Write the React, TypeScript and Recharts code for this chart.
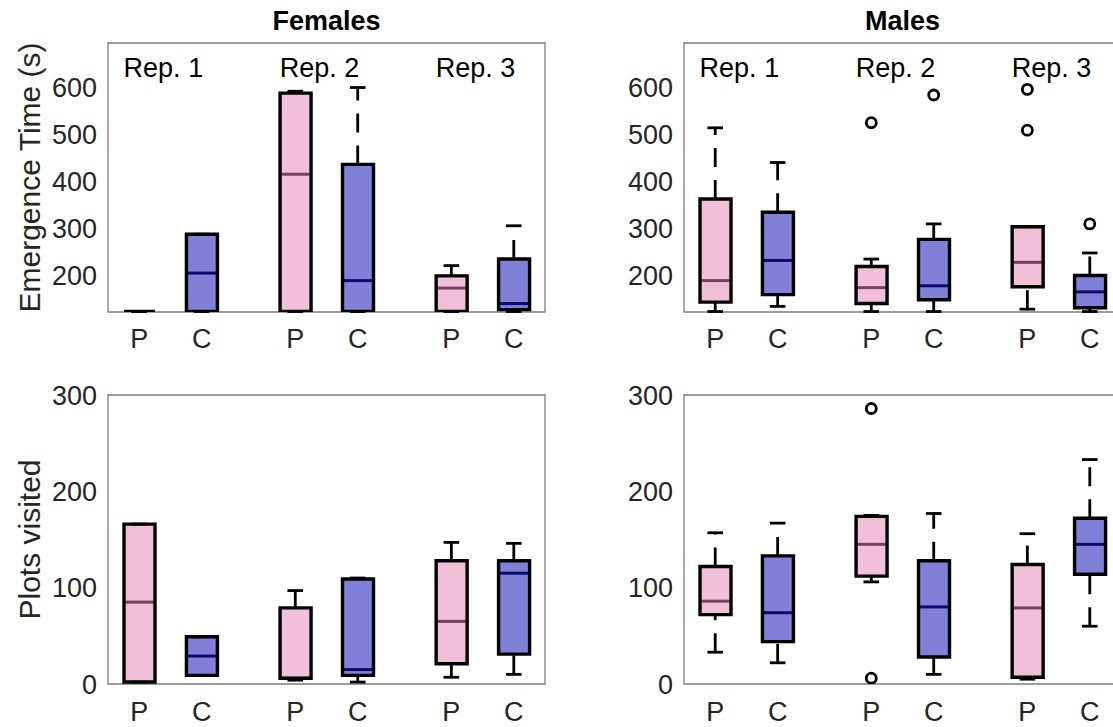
import React from 'react';
import {
  ComposedChart,
  Bar,
  Scatter,
  XAxis,
  YAxis,
  ReferenceLine,
  ReferenceArea,
  ReferenceDot,
} from 'recharts';

// box positions on the x axis and their group
const positions = [1, 1.4, 2, 2.4, 3, 3.4];
const groups = ['P', 'C', 'P', 'C', 'P', 'C'];
const repLabels = ['Rep. 1', 'Rep. 2', 'Rep. 3'];
const repLabelX = [0.9, 1.9, 2.9];

const timeTicks = [200, 300, 400, 500, 600];
const plotTicks = [0, 100, 200, 300];

// each box: [min, q1, median, q3, max]
const femaleTime = [
  [122, 122, 122, 122, 122],
  [122, 122, 204, 287, 287],
  [122, 122, 415, 588, 592],
  [122, 122, 188, 436, 600],
  [122, 122, 172, 198, 220],
  [122, 126, 139, 234, 305],
];
const maleTime = [
  [122, 142, 188, 362, 514],
  [133, 158, 231, 334, 440],
  [122, 139, 173, 218, 234],
  [122, 147, 177, 276, 309],
  [127, 175, 227, 303, 303],
  [122, 130, 164, 199, 247],
];
const femalePlots = [
  [2, 2, 85, 166, 166],
  [9, 9, 29, 49, 49],
  [4, 6, 6, 79, 97],
  [2, 9, 15, 109, 110],
  [7, 21, 65, 128, 147],
  [10, 31, 115, 128, 146],
];
const malePlots = [
  [33, 72, 86, 122, 157],
  [22, 44, 74, 133, 167],
  [106, 112, 145, 174, 175],
  [10, 28, 80, 128, 177],
  [5, 7, 79, 124, 156],
  [60, 114, 145, 172, 233],
];

// outliers: [box index, value]
const femaleTimeOut: number[][] = [];
const maleTimeOut = [[2, 525], [3, 584], [4, 596], [4, 509], [5, 309]];
const femalePlotsOut: number[][] = [];
const malePlotsOut = [[2, 286], [2, 6]];

const PINK = '#f2bfd9';
const BLUE = '#8080d8';
const PINK_MED = '#774060';
const BLUE_MED = '#0b0b6e';
const TEXT = '#262626';
const FRAME = '#7d7d7d';
const HALF = 0.1;

// box fill, median, then outline on top; median y taken between the bar's q1/q3 pixels
const BoxShape = (props: any) => {
  const { x, y, width, payload } = props;
  const h = Math.max(props.height || 0, 0);
  const span = payload.q3 - payload.q1;
  const my = span > 0 ? y + (h * (payload.q3 - payload.med)) / span : y;
  const p = payload.group === 'P';
  return (
    <g>
      <rect x={x} y={y} width={width} height={h} fill={p ? PINK : BLUE} />
      <line x1={x + 1.5} x2={x + width - 1.5} y1={my} y2={my} stroke={p ? PINK_MED : BLUE_MED} strokeWidth={3} />
      <path d={`M${x},${y}h${width}v${h}h${-width}Z`} fill="none" stroke="#000" strokeWidth={3.4} />
    </g>
  );
};

const Outlier = (props: any) => (
  <circle cx={props.cx} cy={props.cy} r={5} fill="none" stroke="#000" strokeWidth={2.8} />
);

interface PanelProps {
  stats: number[][];
  outliers: number[][];
  yDomain: [number, number];
  yTicks: number[];
  left: number;
  top: number;
  width: number;
  height: number;
  marginTop: number;
  marginRight: number;
  xAxisHeight: number;
  yAxisWidth: number;
  xTickMargin: number;
  yLabel?: string;
  reps?: boolean;
}

const Panel = (p: PanelProps) => {
  const rows = p.stats.map((s, i) => ({
    pos: positions[i],
    group: groups[i],
    min: s[0],
    q1: s[1],
    med: s[2],
    q3: s[3],
    max: s[4],
  }));
  const outs = p.outliers.map(([i, v]) => ({ pos: positions[i], value: v }));
  const line = { stroke: '#000', strokeWidth: 2.8, ifOverflow: 'visible' as const };

  return (
    <div style={{ position: 'absolute', left: p.left, top: p.top }}>
      <ComposedChart
        width={p.width}
        height={p.height}
        data={rows}
        margin={{ top: p.marginTop, right: p.marginRight, bottom: 0, left: 0 }}
      >
        <XAxis
          type="number"
          dataKey="pos"
          domain={[0.8, 3.6]}
          ticks={positions}
          interval={0}
          allowDataOverflow
          tickFormatter={(_v: number, i: number) => groups[i]}
          tickLine={false}
          axisLine={false}
          tickSize={0}
          tickMargin={p.xTickMargin}
          height={p.xAxisHeight}
          tick={{ fontSize: 27, fill: TEXT }}
        />
        <YAxis
          type="number"
          domain={p.yDomain}
          ticks={p.yTicks}
          interval={0}
          allowDataOverflow
          tickLine={false}
          axisLine={false}
          tickSize={0}
          tickMargin={11}
          width={p.yAxisWidth}
          tick={{ fontSize: 27, fill: TEXT }}
          label={
            p.yLabel
              ? {
                  value: p.yLabel,
                  angle: -90,
                  position: 'insideLeft',
                  offset: 29,
                  fontSize: 30,
                  fill: TEXT,
                  style: { textAnchor: 'middle' },
                }
              : undefined
          }
        />
        <ReferenceArea
          x1={0.8}
          x2={3.6}
          y1={p.yDomain[0]}
          y2={p.yDomain[1]}
          fill="none"
          stroke={FRAME}
          strokeWidth={1.3}
          ifOverflow="visible"
        />
        {rows.map((r, i) => (
          <ReferenceLine
            key={`lw${i}`}
            segment={[{ x: r.pos, y: r.min }, { x: r.pos, y: r.q1 }]}
            strokeDasharray="19 13"
            {...line}
          />
        ))}
        {rows.map((r, i) => (
          <ReferenceLine
            key={`uw${i}`}
            segment={[{ x: r.pos, y: r.q3 }, { x: r.pos, y: r.max }]}
            strokeDasharray="19 13"
            {...line}
          />
        ))}
        {rows.map((r, i) => (
          <ReferenceLine
            key={`lc${i}`}
            segment={[{ x: r.pos - HALF / 2, y: r.min }, { x: r.pos + HALF / 2, y: r.min }]}
            {...line}
          />
        ))}
        {rows.map((r, i) => (
          <ReferenceLine
            key={`uc${i}`}
            segment={[{ x: r.pos - HALF / 2, y: r.max }, { x: r.pos + HALF / 2, y: r.max }]}
            {...line}
          />
        ))}
        <Bar
          dataKey={(d: any) => [d.q1, d.q3]}
          barSize={31}
          shape={BoxShape}
          isAnimationActive={false}
        />
        <Scatter data={outs} dataKey="value" shape={Outlier} isAnimationActive={false} />
        {p.reps &&
          repLabels.map((t, i) => (
            <ReferenceDot
              key={t}
              x={repLabelX[i]}
              y={642}
              r={0}
              fill="none"
              stroke="none"
              label={{ value: t, position: 'right', offset: 0, fontSize: 27, fill: '#000' }}
            />
          ))}
      </ComposedChart>
    </div>
  );
};

const titleStyle: React.CSSProperties = {
  position: 'absolute',
  top: 8,
  fontSize: 27,
  lineHeight: '27px',
  fontWeight: 'bold',
  color: '#000',
  textAlign: 'center',
  width: 437,
};

export default function App() {
  const topRow = { top: 0, height: 370, marginTop: 43, xAxisHeight: 58, xTickMargin: 17 };
  const bottomRow = { top: 370, height: 357, marginTop: 25, xAxisHeight: 43, xTickMargin: 18 };
  const leftCol = { left: 0, width: 560, marginRight: 15, yAxisWidth: 108 };
  const rightCol = { left: 560, width: 561, marginRight: 0, yAxisWidth: 124 };

  return (
    <div
      style={{
        position: 'absolute',
        left: 0,
        top: 0,
        width: 1113,
        height: 727,
        overflow: 'hidden',
        background: '#fff',
        fontFamily: '"Liberation Sans", Arial, Helvetica, sans-serif',
      }}
    >
      <div style={{ ...titleStyle, left: 108 }}>Females</div>
      <div style={{ ...titleStyle, left: 684 }}>Males</div>
      <Panel
        stats={femaleTime}
        outliers={femaleTimeOut}
        yDomain={[121, 695]}
        yTicks={timeTicks}
        yLabel="Emergence Time (s)"
        reps
        {...topRow}
        {...leftCol}
      />
      <Panel
        stats={maleTime}
        outliers={maleTimeOut}
        yDomain={[121, 695]}
        yTicks={timeTicks}
        reps
        {...topRow}
        {...rightCol}
      />
      <Panel
        stats={femalePlots}
        outliers={femalePlotsOut}
        yDomain={[0, 300]}
        yTicks={plotTicks}
        yLabel="Plots visited"
        {...bottomRow}
        {...leftCol}
      />
      <Panel
        stats={malePlots}
        outliers={malePlotsOut}
        yDomain={[0, 300]}
        yTicks={plotTicks}
        {...bottomRow}
        {...rightCol}
      />
    </div>
  );
}
